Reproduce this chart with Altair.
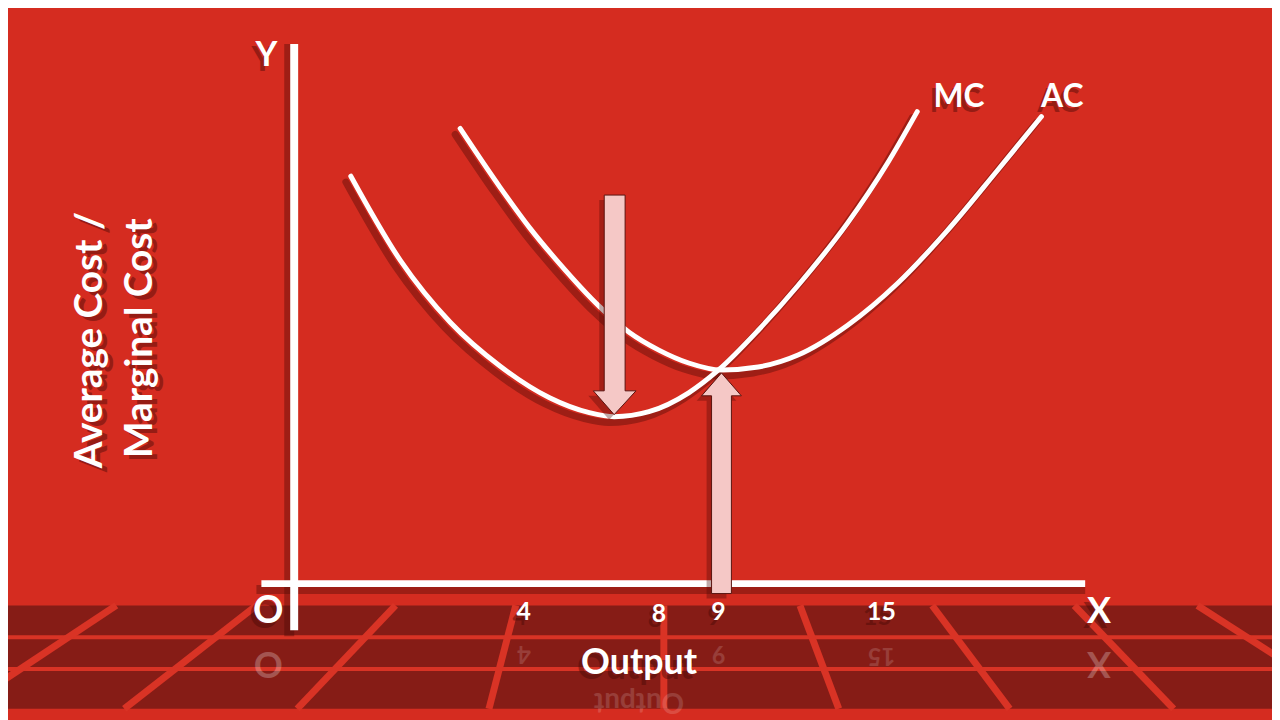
import altair as alt
import pandas as pd

# ---- data (x = output position, y = cost; origin O at 0,0) ----
mc_x = [57, 107, 157, 207, 257, 297, 322, 357, 397, 427, 467, 507, 557, 597, 627]
mc_y = [410, 325, 263, 219, 187, 172, 168, 173, 192, 215, 255, 300, 363, 423, 475]

ac_x = [167, 207, 237, 267, 307, 337, 367, 397, 430, 467, 507, 557, 607, 657, 707, 752]
ac_y = [458, 399, 358, 322, 279, 253, 235, 222, 215, 218, 230, 260, 302, 355, 415, 470]

# arrow outlines (down arrow to MC minimum, up arrow to AC minimum)
arrow_down_x = [312, 333, 333, 344, 322, 301, 312, 312]
arrow_down_y = [391, 391, 194, 194, 170, 194, 194, 391]
arrow_up_x = [420, 440, 440, 450, 430, 410, 420, 420]
arrow_up_y = [-10, -10, 189, 189, 212, 189, 189, -10]

# axes lines
xaxis_x = [-33, 796]
yaxis_y = [-47, 543]

# labels
tick_labels = ["4", "8", "9", "15"]
tick_x = [231, 367, 427, 591]
tick_y = [-29, -31, -29, -29]

corner_labels = ["Y", "O", "X"]
corner_x = [-28, -26, 810]
corner_y = [531, -29, -29]

curve_labels = ["MC", "AC"]
curve_lx = [669, 773]
curve_ly = [490, 490]

x_title = "Output"
x_title_pos = (347, -80)
y_title_lines = ["Average Cost /", "Marginal Cost"]
y_title_x = [-205, -155]
y_title_y = [245, 247]

# decorative floor tiles
floor_top, floor_bottom = -22, -126
floor_rows = [-54, -86]
floor_gap_top = [-179, -38, 102, 223, 372, 509, 642, 785, 909]
floor_gap_bottom = [-336, -171, 3, 196, 372, 548, 720, 885, 1071]

# ---- styling ----
BG = "#d52c20"
TILE = "#861c16"
GAP = "#d93325"
WHITE = "#ffffff"
SHADOW = "#4a0a06"
ARROW_FILL = "#f5c8c6"
FONT = "Lato"

xs = alt.Scale(domain=[-288, 984], nice=False, zero=False)
ys = alt.Scale(domain=[-135, 577], nice=False, zero=False)


def X(f):
    return alt.X(f, type="quantitative", scale=xs, axis=None)


def Y(f):
    return alt.Y(f, type="quantitative", scale=ys, axis=None)


def X2(f):
    return alt.X2(f)


def Y2(f):
    return alt.Y2(f)


# floor
floor_df = pd.DataFrame({"x": [-288], "x2": [984], "y": [floor_top], "y2": [floor_bottom]})
floor = alt.Chart(floor_df).mark_rect(color=TILE).encode(
    x=X("x"), x2=X2("x2"), y=Y("y"), y2=Y2("y2"))

rows_df = pd.DataFrame({"y": floor_rows, "x": [-288] * 2, "x2": [984] * 2})
floor_rows_l = alt.Chart(rows_df).mark_rule(color=GAP, strokeWidth=4).encode(
    x=X("x"), x2=X2("x2"), y=Y("y"))

gaps_df = pd.DataFrame({"x": floor_gap_top, "x2": floor_gap_bottom,
                        "y": [floor_top] * len(floor_gap_top),
                        "y2": [floor_bottom] * len(floor_gap_top)})
floor_gaps = alt.Chart(gaps_df).mark_rule(color=GAP, strokeWidth=7, clip=True).encode(
    x=X("x"), x2=X2("x2"), y=Y("y"), y2=Y2("y2"))

# reflections
refl_df = pd.DataFrame({
    "t": ["O", "4", "9", "15", "X", x_title],
    "x": [-26, 231, 427, 591, 810, 347],
    "y": [-80, -70, -70, -72, -80, -118],
    "s": [36, 24, 24, 24, 36, 28],
    "o": [0.25, 0.15, 0.15, 0.15, 0.25, 0.15],
})
refl = alt.Chart(refl_df).mark_text(font=FONT, fontWeight="bold", color=WHITE,
                                     angle=180, baseline="middle").encode(
    x=X("x"), y=Y("y"), text="t:N", size=alt.Size("s:Q", scale=None),
    opacity=alt.Opacity("o:Q", scale=None))

# axes
xaxis_df = pd.DataFrame({"x": [xaxis_x[0]], "x2": [xaxis_x[1]], "y": [0]})
yaxis_df = pd.DataFrame({"x": [0], "y": [yaxis_y[0]], "y2": [yaxis_y[1]]})


def axis_layers(color, opacity, dx, dy, extra):
    xa = alt.Chart(xaxis_df).mark_rule(color=color, opacity=opacity, strokeWidth=7 + extra,
                                        xOffset=dx, yOffset=dy).encode(
        x=X("x"), x2=X2("x2"), y=Y("y"))
    ya = alt.Chart(yaxis_df).mark_rule(color=color, opacity=opacity, strokeWidth=8 + extra,
                                        xOffset=dx, yOffset=dy).encode(
        x=X("x"), y=Y("y"), y2=Y2("y2"))
    return [xa, ya]


# curves
curves_df = pd.concat([
    pd.DataFrame({"x": mc_x, "y": mc_y, "curve": "MC", "i": range(len(mc_x))}),
    pd.DataFrame({"x": ac_x, "y": ac_y, "curve": "AC", "i": range(len(ac_x))}),
])


def curve_layer(color, opacity, dx, dy, width):
    return alt.Chart(curves_df).mark_line(color=color, opacity=opacity, strokeWidth=width,
                                          interpolate="monotone", xOffset=dx, yOffset=dy,
                                          strokeCap="round").encode(
        x=X("x"), y=Y("y"), detail="curve:N", order="i:Q")


# arrows
arrows_df = pd.concat([
    pd.DataFrame({"x": arrow_down_x, "y": arrow_down_y, "a": "down", "i": range(len(arrow_down_x))}),
    pd.DataFrame({"x": arrow_up_x, "y": arrow_up_y, "a": "up", "i": range(len(arrow_up_x))}),
])
arrow_shadow = alt.Chart(arrows_df).mark_line(fill=SHADOW, stroke=SHADOW, fillOpacity=0.35,
                                              strokeOpacity=0.0, xOffset=-5, yOffset=5).encode(
    x=X("x"), y=Y("y"), detail="a:N", order="i:Q")
arrows = alt.Chart(arrows_df).mark_line(fill=ARROW_FILL, stroke="#5a1410", strokeWidth=1,
                                        strokeJoin="miter").encode(
    x=X("x"), y=Y("y"), detail="a:N", order="i:Q")

# text
text_df = pd.DataFrame({
    "t": tick_labels + corner_labels + curve_labels + [x_title],
    "x": tick_x + corner_x + curve_lx + [x_title_pos[0]],
    "y": tick_y + corner_y + curve_ly + [x_title_pos[1]],
    "s": [25] * 4 + [34, 38, 36] + [32, 32] + [36],
})
ytitle_df = pd.DataFrame({"t": y_title_lines, "x": y_title_x, "y": y_title_y})


def text_layers(color, opacity, dx, dy):
    a = alt.Chart(text_df).mark_text(font=FONT, fontWeight="bold", color=color, opacity=opacity,
                                      baseline="middle", align="center", dx=dx, dy=dy).encode(
        x=X("x"), y=Y("y"), text="t:N", size=alt.Size("s:Q", scale=None))
    b = alt.Chart(ytitle_df).mark_text(font=FONT, fontWeight="bold", color=color, opacity=opacity,
                                        baseline="middle", align="center", angle=270, fontSize=39,
                                        dx=dx, dy=dy).encode(
        x=X("x"), y=Y("y"), text="t:N")
    return [a, b]


layers = [floor, floor_rows_l, floor_gaps, refl]
layers += text_layers(SHADOW, 0.45, -4, 5)
layers += axis_layers(SHADOW, 0.4, -5, 6, 2)
layers += [curve_layer(SHADOW, 0.4, -5, 6, 7)]
layers += axis_layers(WHITE, 1.0, 0, 0, 0)
layers += [curve_layer(WHITE, 1.0, 0, 0, 5)]
layers += [arrow_shadow, arrows]
layers += text_layers(WHITE, 1.0, 0, 0)

chart = alt.layer(*layers).properties(
    width=1272, height=712, background=BG, padding=0,
    autosize=alt.AutoSizeParams(type="none"),
).configure_view(strokeWidth=0)

chart.save("out.html", embed_options={"renderer": "svg", "actions": False})
